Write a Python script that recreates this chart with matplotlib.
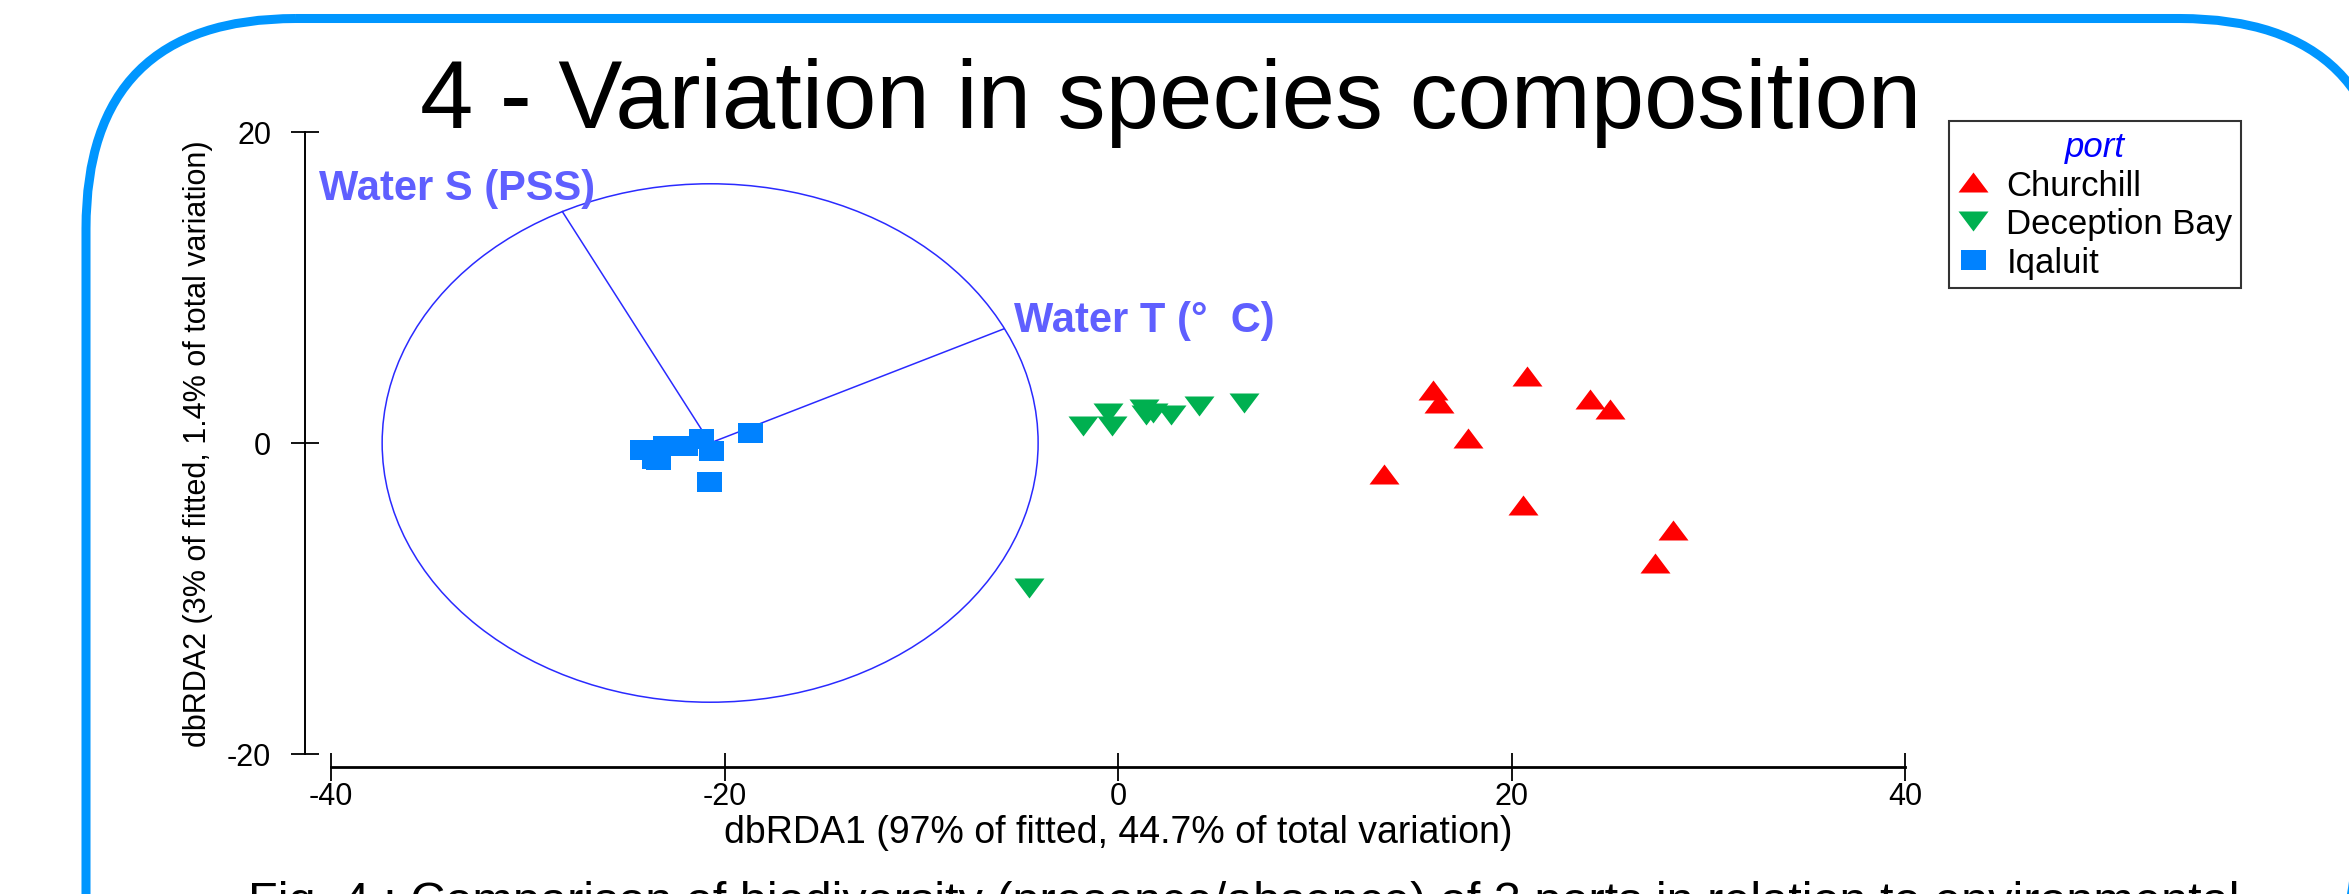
import matplotlib
matplotlib.use('Agg')
import matplotlib.pyplot as plt
from matplotlib.patches import Ellipse, FancyBboxPatch

plt.rcParams['font.family'] = ['Liberation Sans', 'DejaVu Sans']
plt.rcParams['axes.unicode_minus'] = False

# dbRDA scores
churchill_x = [20.8, 16.0, 16.3, 24.0, 25.0, 17.8, 13.5, 20.6, 28.2, 27.3]
churchill_y = [4.3, 3.4, 2.6, 2.8, 2.2, 0.3, -2.0, -4.0, -5.6, -7.7]

deception_x = [-4.5, -1.8, -0.3, -0.5, 1.3, 1.4, 1.8, 2.7, 4.1, 6.4]
deception_y = [-9.3, 1.1, 1.1, 1.9, 2.2, 1.8, 1.9, 1.8, 2.4, 2.6]

iqaluit_x = [-24.2, -23.6, -23.4, -23.0, -22.0, -21.2, -20.7, -20.8, -18.7]
iqaluit_y = [-0.45, -1.05, -1.1, -0.2, -0.2, 0.25, -0.5, -2.5, 0.65]

ports = ['Churchill', 'Deception Bay', 'Iqaluit']
port_colors = ['#ff0000', '#00b050', '#0082ff']

# correlation circle and environmental vectors
circle_center = (-20.73, 0.0)
circle_radius = 16.67
vector_names = ['Water S (PSS)', 'Water T (°  C)']
vector_x = [-28.24, -5.80]
vector_y = [14.88, 7.34]
label_x = [-40.6, -5.3]
label_y = [15.7, 7.2]

xticks = [-40, -20, 0, 20, 40]
yticks = [-20, 0, 20]

W, H = 2349, 895
fig = plt.figure(figsize=(W / 100, H / 100), dpi=100)

# rounded blue frame of the slide, drawn in pixel units
bg = fig.add_axes([0, 0, 1, 1], zorder=-1)
bg.set_xlim(0, W)
bg.set_ylim(H, 0)
bg.axis('off')
bg.add_patch(FancyBboxPatch((86, 19.5), 2304, 1200,
                            boxstyle='round,pad=0,rounding_size=210',
                            fill=False, ec='#0096ff', lw=6.5))

ax = fig.add_axes([331 / W, 140 / H, 1574 / W, 622 / H])
ax.set_xlim(-40, 40)
ax.set_ylim(-20, 20)
ax.patch.set_visible(False)

# the circle is round in data units, so it shows as an ellipse
ax.add_patch(Ellipse(circle_center, 2 * circle_radius, 2 * circle_radius,
                     fill=False, ec='#2a2aff', lw=1.1))
for vx, vy in zip(vector_x, vector_y):
    ax.plot([circle_center[0], vx], [circle_center[1], vy], color='#2a2aff', lw=1.1)
for name, lx, ly in zip(vector_names, label_x, label_y):
    ax.text(lx, ly, name, color='#5f5fff', fontsize=30, fontweight='bold',
            ha='left', va='baseline')

# markers a bit wider than tall, like the original
tri_up = [(-1.5, -1), (1.5, -1), (0, 1)]
tri_down = [(-1.5, 1), (1.5, 1), (0, -1)]
rect = [(-1.25, -1), (1.25, -1), (1.25, 1), (-1.25, 1)]

ax.plot(churchill_x, churchill_y, ls='none', marker=tri_up, ms=21.6,
        mew=0, color=port_colors[0], label=ports[0])
ax.plot(deception_x, deception_y, ls='none', marker=tri_down, ms=21.6,
        mew=0, color=port_colors[1], label=ports[1])
ax.plot(iqaluit_x, iqaluit_y, ls='none', marker=rect, ms=18,
        mew=0, color=port_colors[2], label=ports[2])

for side in ['top', 'right']:
    ax.spines[side].set_visible(False)
ax.spines['left'].set_position(('outward', 19))
ax.spines['bottom'].set_position(('outward', 9.5))
ax.spines['left'].set_bounds(-20, 20)
ax.spines['bottom'].set_bounds(-40, 40)
ax.spines['left'].set_linewidth(1.4)
ax.spines['bottom'].set_linewidth(2)

ax.set_xticks(xticks)
ax.set_yticks(yticks)
ax.tick_params(axis='both', direction='inout', length=20, width=1.3, labelsize=22)
ax.tick_params(axis='x', pad=0)
ax.tick_params(axis='y', pad=14)

ax.set_xlabel('dbRDA1 (97% of fitted, 44.7% of total variation)', fontsize=27, labelpad=2)
ax.set_ylabel('dbRDA2 (3% of fitted, 1.4% of total variation)', fontsize=22, labelpad=10)

leg = ax.legend(loc='upper left', bbox_to_anchor=(1949 / W, 1 - 122 / H),
                bbox_transform=fig.transFigure, borderaxespad=0, fontsize=25,
                title='port', title_fontproperties={'size': 25, 'style': 'italic'},
                fancybox=False, framealpha=1, edgecolor='#333333',
                handlelength=0.9, handletextpad=0.5, labelspacing=0.17,
                borderpad=0.25)
leg.get_title().set_color('#0000ff')
leg.get_frame().set_linewidth(1.5)

fig.text(1171 / W, 1 - 128 / H, '4 - Variation in species composition',
         ha='center', va='baseline', fontsize=69)
fig.text(248 / W, 1 - 916 / H,
         'Fig. 4 : Comparison of biodiversity (presence/absence) of 3 ports in relation to environmental',
         ha='left', va='baseline', fontsize=35)

fig.savefig('out.png', dpi=100)
